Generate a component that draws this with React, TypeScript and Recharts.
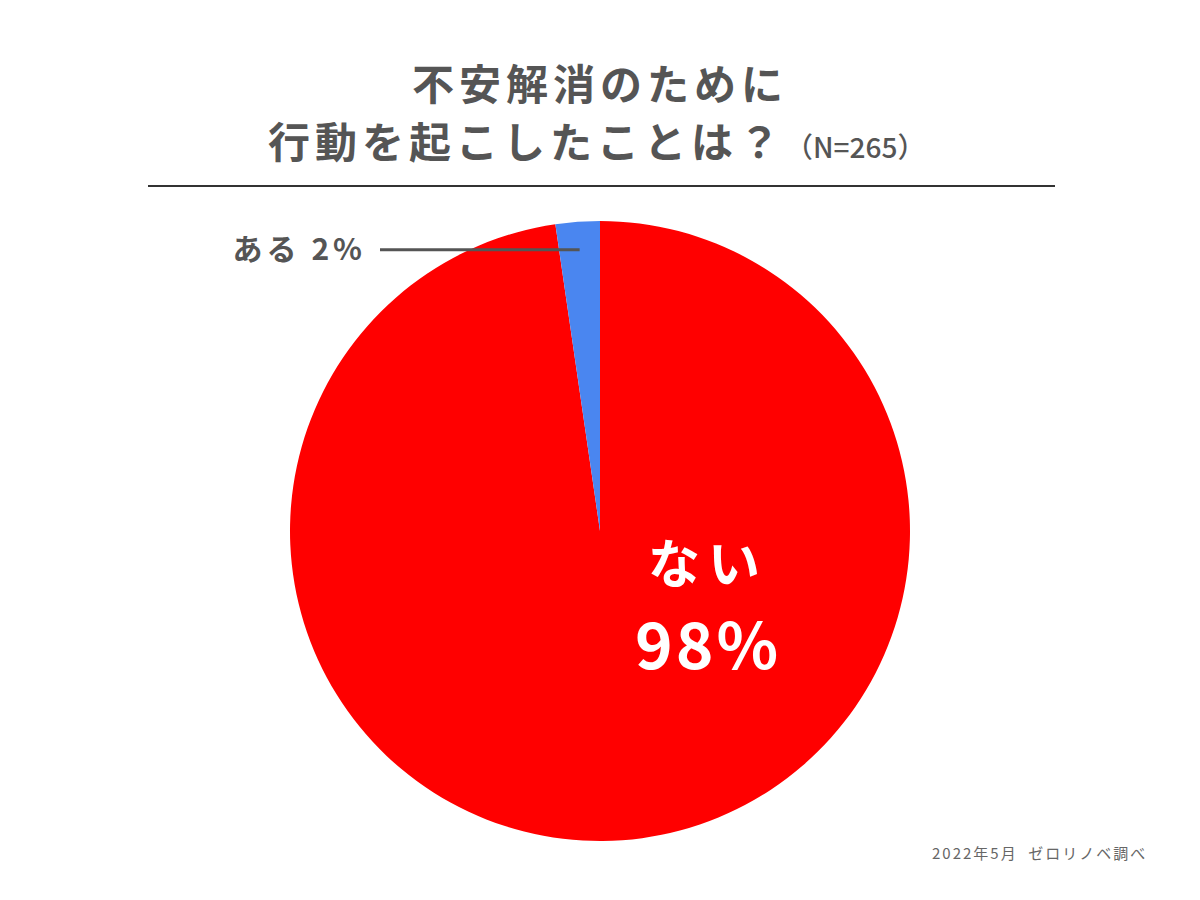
import React from 'react';
import { PieChart, Pie, Cell } from 'recharts';

const answers = ['ない', 'ある'];
const shares = [97.7, 2.3];
const colors = ['#ff0000', '#4a86f0'];

const data = answers.map((name, i) => ({ name, value: shares[i] }));

const font = '"Noto Sans CJK JP", "Noto Sans", sans-serif';
const ink = '#555555';

const renderLabel = (props: any) => {
  const { cx, cy, midAngle, outerRadius, index, name, value } = props;
  const RAD = Math.PI / 180;
  const pct = `${Math.round(value)}%`;
  if (index === 1) {
    const r = outerRadius * 0.91;
    const x = cx + r * Math.cos(-midAngle * RAD);
    const y = cy + r * Math.sin(-midAngle * RAD);
    const x2 = cx - 220;
    return (
      <g>
        <line x1={x} y1={y} x2={x2} y2={y} stroke="#555" strokeWidth={3} />
        <text x={x2 - 14} y={y} dy={10} textAnchor="end" fill={ink}
          fontFamily={font} fontWeight={700} fontSize={30} letterSpacing={4}>
          {`${name} ${pct}`}
        </text>
      </g>
    );
  }
  return (
    <g>
      <text x={cx + 108} y={cy + 52} textAnchor="middle" fill="#fff"
        fontFamily={font} fontWeight={700} fontSize={52} letterSpacing={8}>
        {name}
      </text>
      <text x={cx + 108} y={cy + 138} textAnchor="middle" fill="#fff"
        fontFamily={font} fontWeight={700} fontSize={64} letterSpacing={3}>
        {pct}
      </text>
    </g>
  );
};

const App = () => {
  return (
    <div style={{ position: 'absolute', left: 0, top: 0, width: 1200, height: 900, background: '#fff' }}>
      <div style={{ position: 'absolute', left: 0, top: 56, width: 1200, textAlign: 'center',
        fontFamily: font, fontWeight: 700, fontSize: 42, letterSpacing: 5, color: ink, lineHeight: '52px' }}>
        不安解消のために
      </div>
      <div style={{ position: 'absolute', left: 268, top: 114, whiteSpace: 'nowrap',
        fontFamily: font, fontWeight: 700, fontSize: 42, letterSpacing: 5, color: ink, lineHeight: '52px' }}>
        行動を起こしたことは？
        <span style={{ fontSize: 28, letterSpacing: 0, marginLeft: 0, fontWeight: 500 }}>（N=265）</span>
      </div>
      <div style={{ position: 'absolute', left: 148, top: 185, width: 907, height: 2, background: '#333' }} />
      <div style={{ position: 'absolute', left: 0, top: 0 }}>
        <PieChart width={1200} height={900} margin={{ top: 0, right: 0, bottom: 0, left: 0 }}>
          <Pie
            data={data}
            dataKey="value"
            nameKey="name"
            cx={600}
            cy={531}
            outerRadius={310}
            startAngle={90}
            endAngle={-270}
            stroke="none"
            label={renderLabel}
            labelLine={false}
            isAnimationActive={false}
          >
            {data.map((d, i) => (
              <Cell key={d.name} fill={colors[i]} />
            ))}
          </Pie>
        </PieChart>
      </div>
      <div style={{ position: 'absolute', left: 932, top: 842, whiteSpace: 'nowrap',
        fontFamily: font, fontSize: 15, letterSpacing: 2, color: '#666' }}>
        2022年5月&nbsp;&nbsp;ゼロリノベ調べ
      </div>
    </div>
  );
};

export default App;
